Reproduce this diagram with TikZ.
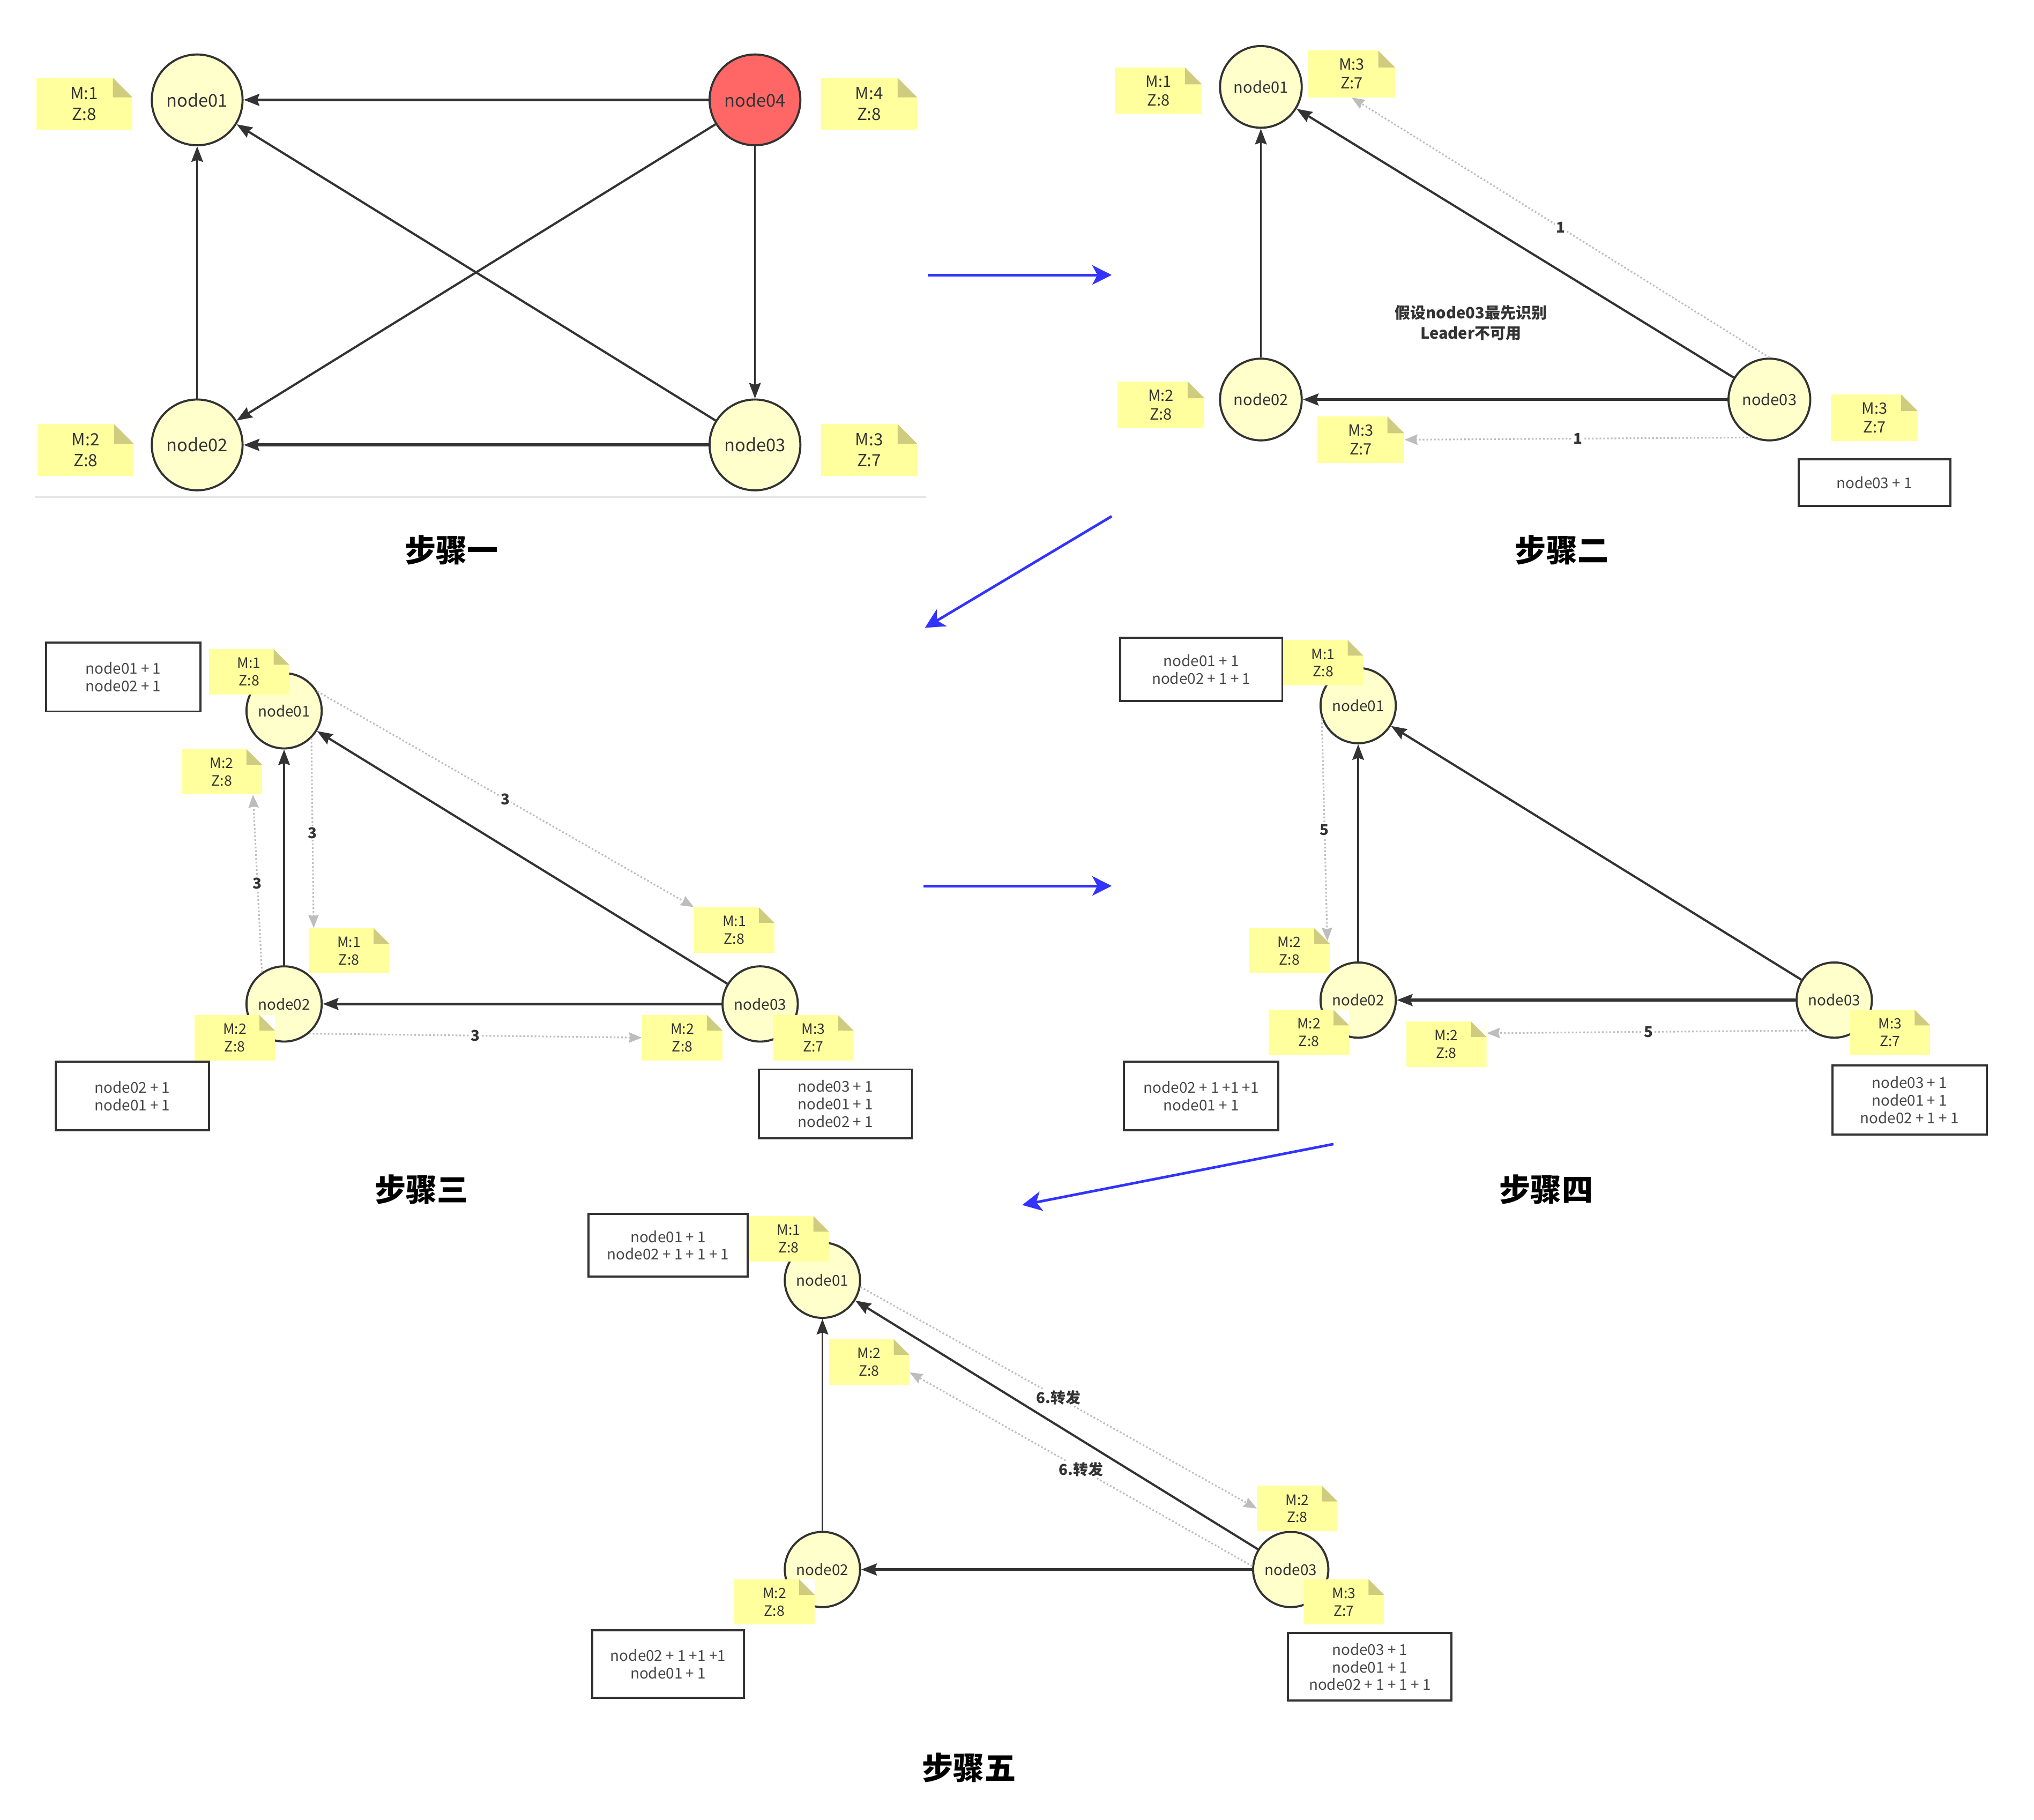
\documentclass[tikz,border=0pt]{standalone}
\usepackage{fontspec}
\setmainfont{Noto Sans CJK SC}
\usetikzlibrary{arrows.meta}

\definecolor{ink}{HTML}{333333}
\definecolor{nodefill}{HTML}{FFFFCC}
\definecolor{leaderfill}{HTML}{FF6666}
\definecolor{notefill}{HTML}{FFFF9E}
\definecolor{notefold}{HTML}{CFCC80}
\definecolor{msg}{HTML}{BDBDBD}
\definecolor{flow}{HTML}{3333FF}
\definecolor{rule}{HTML}{E6E6E6}

\tikzset{
  srv/.style={circle, draw=ink, line width=1.6pt, fill=nodefill, inner sep=0pt, text=ink},
  srvA/.style={srv, minimum size=70pt, font=\fontsize{13.5}{16}\selectfont},
  srvB/.style={srv, minimum size=63pt, font=\fontsize{12}{14}\selectfont},
  srvC/.style={srv, minimum size=58pt, font=\fontsize{11.5}{13}\selectfont},
  notebase/.style={inner sep=0pt, align=center, text=ink, path picture={
      \fill[notefill] (path picture bounding box.south west) rectangle (path picture bounding box.north east);
      \fill[white] ([xshift=-#1]path picture bounding box.north east) -- (path picture bounding box.north east)
        -- ([yshift=-#1]path picture bounding box.north east) -- cycle;
      \fill[notefold] ([xshift=-#1]path picture bounding box.north east) -- ([yshift=-#1]path picture bounding box.north east)
        -- ([xshift=-#1,yshift=-#1]path picture bounding box.north east) -- cycle;
    }},
  noteA/.style={notebase=15pt, minimum width=74pt, minimum height=40pt, font=\fontsize{13}{16}\selectfont},
  noteB/.style={notebase=13pt, minimum width=67pt, minimum height=36pt, font=\fontsize{12}{14.5}\selectfont},
  noteC/.style={notebase=12pt, minimum width=62pt, minimum height=35pt, font=\fontsize{11}{13.5}\selectfont},
  tally/.style={draw=ink, line width=1.6pt, fill=white, inner sep=0pt, align=center,
    font=\fontsize{11.5}{13.5}\selectfont, text=ink!90},
  edge/.style={draw=ink, line width=1.7pt, -{Stealth[length=12pt,width=9pt,inset=1.5pt]}},
  edgeT/.style={edge, line width=2.3pt},
  edgeS/.style={edge, line width=1.3pt},
  msgline/.style={draw=msg, line width=1.3pt, dash pattern=on 1.3pt off 1.6pt,
    -{Stealth[length=10pt,width=8pt,inset=1pt]}},
  msglabel/.style={fill=white, inner sep=1pt, font=\bfseries\fontsize{11.5}{13}\selectfont, text=ink},
  flowarrow/.style={draw=flow, line width=2pt, -{Stealth[length=15pt,width=15pt,inset=4pt]}},
  steptitle/.style={font=\bfseries\fontsize{24}{28}\selectfont, text=black},
}

\begin{document}
\begin{tikzpicture}[x=1pt, y=-1pt]
\useasboundingbox[fill=white] (0,0) rectangle (1568,1403);

% ---------------- Step 1: four servers, node04 is the leader
\node[srvA] (a1) at (152,77) {node01};
\node[srvA, fill=leaderfill] (a4) at (582,77) {node04};
\node[srvA] (a2) at (152,343) {node02};
\node[srvA] (a3) at (582,343) {node03};
\draw[edgeT] (a4) -- (a1);
\draw[edge] (a4) -- (a2);
\draw[edgeS] (a4) -- (a3);
\draw[edge] (a3) -- (a1);
\draw[edgeT] (a3) -- (a2);
\draw[edgeS] (a2) -- (a1);
\node[noteA] (a1m) at (65,80) {M:1\\Z:8};
\node[noteA] (a4m) at (670,80) {M:4\\Z:8};
\node[noteA] (a2m) at (66,347) {M:2\\Z:8};
\node[noteA] (a3m) at (670,347) {M:3\\Z:7};
\coordinate (sepL) at (27,383);
\coordinate (sepR) at (714,383);
\draw[rule, line width=1.5pt] (sepL) -- (sepR);
\node[steptitle] (t1) at (348,424) {步骤一};

% ---------------- Step 2: node03 starts an election
\node[srvB] (b1) at (972,67) {node01};
\node[srvB] (b2) at (972,308) {node02};
\node[srvB] (b3) at (1364,308) {node03};
\draw[edgeS] (b2) -- (b1);
\draw[edge] (b3) -- (b1);
\draw[edgeT] (b3) -- (b2);
\node[noteB] (b1m) at (893,70) {M:1\\Z:8};
\node[noteB] (b1mA) at (1042,57) {M:3\\Z:7};
\node[noteB] (b2m) at (895,312) {M:2\\Z:8};
\node[noteB] (b2mA) at (1049,339) {M:3\\Z:7};
\node[noteB] (b3m) at (1445,322) {M:3\\Z:7};
\node[tally, minimum width=117pt, minimum height=36pt] (b3c) at (1445,372) {node03 + 1};
\node[font=\bfseries\fontsize{12}{16}\selectfont, text=ink, align=center] (bhint) at (1134,249)
  {假设node03最先识别\\Leader不可用};
\draw[msgline] (b3.north) -- node[msglabel] {1} (b1mA.south);
\draw[msgline] (b3.-115) -- node[msglabel] {1} (b2mA.east);
\node[steptitle] (t2) at (1204,424) {步骤二};

% ---------------- Step 3: votes exchanged
\node[srvC] (c1) at (219,548) {node01};
\node[srvC] (c2) at (219,774) {node02};
\node[srvC] (c3) at (586,774) {node03};
\draw[edgeS] (c2) -- (c1);
\draw[edge] (c3) -- (c1);
\draw[edgeT] (c3) -- (c2);
\node[noteC] (c1m) at (192,518) {M:1\\Z:8};
\node[noteC] (c1mA) at (171,595) {M:2\\Z:8};
\node[noteC] (c2mA) at (269,733) {M:1\\Z:8};
\node[noteC] (c3mA) at (566,717) {M:1\\Z:8};
\node[noteC] (c2m) at (181,800) {M:2\\Z:8};
\node[noteC] (c3mB) at (526,800) {M:2\\Z:8};
\node[noteC] (c3m) at (627,800) {M:3\\Z:7};
\node[tally, minimum width=119pt, minimum height=53pt] (c1c) at (95,522) {node01 + 1\\node02 + 1};
\node[tally, minimum width=118pt, minimum height=53pt] (c2c) at (102,845) {node02 + 1\\node01 + 1};
\node[tally, minimum width=118pt, minimum height=53pt] (c3c) at (644,851) {node03 + 1\\node01 + 1\\node02 + 1};
\draw[msgline] (c1.-45) -- node[msglabel] {3} ([xshift=4pt]c2mA.north west);
\draw[msgline] (c2.125) -- node[msglabel] {3} ([xshift=24pt]c1mA.south);
\draw[msgline] (c1.30) -- node[msglabel] {3} (c3mA.north west);
\draw[msgline] (c2.-50) -- node[msglabel] {3} (c3mB.west);
\node[steptitle] (t3) at (325,917) {步骤三};

% ---------------- Step 4: further votes
\node[srvC] (d1) at (1047,544) {node01};
\node[srvC] (d2) at (1047,771) {node02};
\node[srvC] (d3) at (1414,771) {node03};
\draw[edgeS] (d2) -- (d1);
\draw[edge] (d3) -- (d1);
\draw[edgeT] (d3) -- (d2);
\node[noteC] (d1m) at (1020,511) {M:1\\Z:8};
\node[noteC] (d2mA) at (994,733) {M:2\\Z:8};
\node[noteC] (d2m) at (1009,796) {M:2\\Z:8};
\node[noteC] (d2mB) at (1115,805) {M:2\\Z:8};
\node[noteC] (d3m) at (1457,796) {M:3\\Z:7};
\node[tally, minimum width=125pt, minimum height=49pt] (d1c) at (926,516) {node01 + 1\\node02 + 1 + 1};
\node[tally, minimum width=119pt, minimum height=53pt] (d2c) at (926,845) {node02 + 1 +1 +1\\node01 + 1};
\node[tally, minimum width=119pt, minimum height=53pt] (d3c) at (1472,848) {node03 + 1\\node01 + 1\\node02 + 1 + 1};
\draw[msgline] (d1.200) -- node[msglabel] {5} ([xshift=-2pt,yshift=-10pt]d2mA.north east);
\draw[msgline] (d3.-128) -- node[msglabel] {5} ([yshift=8.5pt]d2mB.east);
\node[steptitle] (t4) at (1192,917) {步骤四};

% ---------------- Step 5: forwarding
\node[srvC] (e1) at (634,987) {node01};
\node[srvC] (e2) at (634,1210) {node02};
\node[srvC] (e3) at (995,1210) {node03};
\draw[edgeS] (e2) -- (e1);
\draw[edge] (e3) -- (e1);
\draw[edgeT] (e3) -- (e2);
\node[noteC] (e1m) at (608,955) {M:1\\Z:8};
\node[noteC] (e1mA) at (670,1050) {M:2\\Z:8};
\node[noteC] (e3mA) at (1000,1163) {M:2\\Z:8};
\node[noteC] (e2m) at (597,1235) {M:2\\Z:8};
\node[noteC] (e3m) at (1036,1235) {M:3\\Z:7};
\node[tally, minimum width=123pt, minimum height=48pt] (e1c) at (515,960) {node01 + 1\\node02 + 1 + 1 + 1};
\node[tally, minimum width=117pt, minimum height=52pt] (e2c) at (515,1283) {node02 + 1 +1 +1\\node01 + 1};
\node[tally, minimum width=126pt, minimum height=52pt] (e3c) at (1056,1285) {node03 + 1\\node01 + 1\\node02 + 1 + 1 + 1};
\draw[msgline] (e1.-10) -- node[msglabel] {6.转发} (e3mA.west);
\draw[msgline] (e3.175) -- node[msglabel] {6.转发} ([yshift=-8pt]e1mA.east);
\node[steptitle] (t5) at (747,1363) {步骤五};

% ---------------- Flow between steps
\coordinate (f1s) at (715,212);  \coordinate (f1e) at (857,212);
\coordinate (f2s) at (857,398);  \coordinate (f2e) at (713,484);
\coordinate (f3s) at (712,683);  \coordinate (f3e) at (857,683);
\coordinate (f4s) at (1028,882); \coordinate (f4e) at (788,929);
\draw[flowarrow] (f1s) -- (f1e);
\draw[flowarrow] (f2s) -- (f2e);
\draw[flowarrow] (f3s) -- (f3e);
\draw[flowarrow] (f4s) -- (f4e);
\end{tikzpicture}
\end{document}
